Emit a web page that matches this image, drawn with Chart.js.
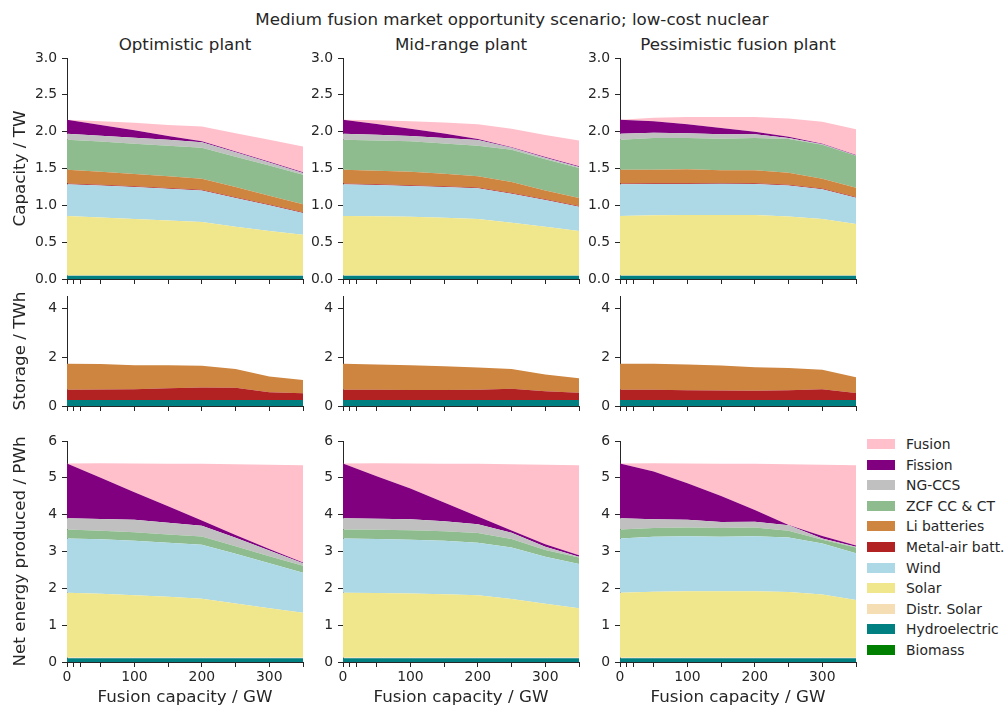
<!DOCTYPE html>
<html><head><meta charset="utf-8">
<script src="https://cdn.jsdelivr.net/npm/chart.js@4.4.1/dist/chart.umd.min.js"></script>
<style>
html,body{margin:0;padding:0;background:#fff;}
body{width:1007px;height:710px;position:relative;overflow:hidden;font-family:'DejaVu Sans',sans-serif;color:#262626;}
canvas{position:absolute;}
.t{position:absolute;white-space:nowrap;transform:translate(-50%,-50%);font-size:16.7px;line-height:1;}
.li{position:absolute;left:867px;height:20px;white-space:nowrap;font-size:13.9px;line-height:20px;}
.li span{display:inline-block;width:28px;height:10px;vertical-align:middle;margin-right:11px;position:relative;top:-1px;}
</style></head><body>
<div class="t" style="left:512px;top:19px">Medium fusion market opportunity scenario; low-cost nuclear</div>
<div class="t" style="left:185px;top:44px">Optimistic plant</div>
<div class="t" style="left:461px;top:44px">Mid-range plant</div>
<div class="t" style="left:738px;top:44px">Pessimistic fusion plant</div>
<div id="legend"></div>
<script>
// ---------- data ----------
const fusionGW = [0, 50, 100, 150, 200, 250, 300, 350];
const xTickValues = [0, 10, 20, 50, 100, 150, 200, 250, 300, 350];
const xTickLabels = [0, 100, 200, 300];
const capTicks = [0, 0.5, 1.0, 1.5, 2.0, 2.5, 3.0];
const stoTicks = [0, 2, 4];
const enTicks = [0, 1, 2, 3, 4, 5, 6];
const columnTitles = ['Optimistic plant', 'Mid-range plant', 'Pessimistic fusion plant'];
const rowTitles = ['Capacity / TW', 'Storage / TWh', 'Net energy produced / PWh'];
// stacking order, bottom to top
const seriesNames = ['Biomass', 'Hydroelectric', 'Distr. Solar', 'Solar', 'Wind', 'Metal-air batt.', 'Li batteries', 'ZCF CC & CT', 'NG-CCS', 'Fission', 'Fusion'];
const seriesColors = ['#008000', '#008080', '#F5DEB3', '#F0E68C', '#ADD8E6', '#B22222', '#CD853F', '#8FBC8F', '#C0C0C0', '#800080', '#FFC0CB'];

// Capacity (TW) per series, same order as seriesNames
const capOptimistic = [
  [0, 0, 0, 0, 0, 0, 0, 0],
  [0.045, 0.045, 0.045, 0.045, 0.045, 0.045, 0.045, 0.045],
  [0.005, 0.005, 0.005, 0.005, 0.005, 0.005, 0.005, 0.005],
  [0.805, 0.785, 0.764, 0.745, 0.724, 0.66, 0.60, 0.552],
  [0.43, 0.435, 0.435, 0.43, 0.426, 0.39, 0.35, 0.294],
  [0.01, 0.01, 0.01, 0.01, 0.01, 0.01, 0.01, 0.01],
  [0.189, 0.175, 0.166, 0.16, 0.152, 0.14, 0.12, 0.108],
  [0.407, 0.41, 0.412, 0.415, 0.421, 0.41, 0.41, 0.402],
  [0.082, 0.081, 0.082, 0.08, 0.072, 0.06, 0.04, 0.023],
  [0.19, 0.144, 0.101, 0.05, 0.014, 0.01, 0.01, 0.009],
  [0, 0.05, 0.1, 0.15, 0.2, 0.25, 0.3, 0.35]
];
const capMidRange = [
  [0, 0, 0, 0, 0, 0, 0, 0],
  [0.045, 0.045, 0.045, 0.045, 0.045, 0.045, 0.045, 0.045],
  [0.005, 0.005, 0.005, 0.005, 0.005, 0.005, 0.005, 0.005],
  [0.805, 0.802, 0.796, 0.78, 0.764, 0.715, 0.66, 0.602],
  [0.43, 0.423, 0.416, 0.42, 0.417, 0.393, 0.362, 0.33],
  [0.01, 0.01, 0.01, 0.01, 0.01, 0.01, 0.01, 0.01],
  [0.189, 0.185, 0.185, 0.17, 0.153, 0.149, 0.118, 0.108],
  [0.407, 0.41, 0.412, 0.41, 0.416, 0.438, 0.425, 0.407],
  [0.082, 0.077, 0.071, 0.075, 0.077, 0.025, 0.02, 0.015],
  [0.19, 0.148, 0.1, 0.06, 0.013, 0.01, 0.01, 0.008],
  [0, 0.05, 0.1, 0.15, 0.2, 0.25, 0.3, 0.35]
];
const capPessimistic = [
  [0, 0, 0, 0, 0, 0, 0, 0],
  [0.045, 0.045, 0.045, 0.045, 0.045, 0.045, 0.045, 0.045],
  [0.005, 0.005, 0.005, 0.005, 0.005, 0.005, 0.005, 0.005],
  [0.805, 0.814, 0.819, 0.819, 0.819, 0.80, 0.764, 0.697],
  [0.43, 0.426, 0.421, 0.425, 0.421, 0.42, 0.403, 0.357],
  [0.01, 0.01, 0.01, 0.01, 0.01, 0.01, 0.01, 0.01],
  [0.189, 0.184, 0.189, 0.171, 0.175, 0.163, 0.135, 0.126],
  [0.407, 0.43, 0.425, 0.43, 0.439, 0.457, 0.462, 0.434],
  [0.082, 0.072, 0.063, 0.059, 0.05, 0.015, 0.006, 0.004],
  [0.19, 0.154, 0.123, 0.086, 0.036, 0.015, 0.006, 0.005],
  [0, 0.05, 0.1, 0.15, 0.2, 0.25, 0.3, 0.35]
];

// Storage (TWh)
const stoOptimistic = [
  [0, 0, 0, 0, 0, 0, 0, 0],
  [0.245, 0.245, 0.245, 0.245, 0.245, 0.245, 0.245, 0.245],
  [0, 0, 0, 0, 0, 0, 0, 0],
  [0, 0, 0, 0, 0, 0, 0, 0],
  [0, 0, 0, 0, 0, 0, 0, 0],
  [0.422, 0.425, 0.445, 0.485, 0.515, 0.505, 0.315, 0.275],
  [1.063, 1.05, 0.98, 0.935, 0.89, 0.76, 0.65, 0.54],
  [0, 0, 0, 0, 0, 0, 0, 0],
  [0, 0, 0, 0, 0, 0, 0, 0],
  [0, 0, 0, 0, 0, 0, 0, 0],
  [0, 0, 0, 0, 0, 0, 0, 0]
];
const stoMidRange = [
  [0, 0, 0, 0, 0, 0, 0, 0],
  [0.245, 0.245, 0.245, 0.245, 0.245, 0.245, 0.245, 0.245],
  [0, 0, 0, 0, 0, 0, 0, 0],
  [0, 0, 0, 0, 0, 0, 0, 0],
  [0, 0, 0, 0, 0, 0, 0, 0],
  [0.422, 0.415, 0.405, 0.405, 0.415, 0.465, 0.355, 0.295],
  [1.063, 1.04, 1.02, 0.98, 0.92, 0.80, 0.69, 0.60],
  [0, 0, 0, 0, 0, 0, 0, 0],
  [0, 0, 0, 0, 0, 0, 0, 0],
  [0, 0, 0, 0, 0, 0, 0, 0],
  [0, 0, 0, 0, 0, 0, 0, 0]
];
const stoPessimistic = [
  [0, 0, 0, 0, 0, 0, 0, 0],
  [0.245, 0.245, 0.245, 0.245, 0.245, 0.245, 0.245, 0.245],
  [0, 0, 0, 0, 0, 0, 0, 0],
  [0, 0, 0, 0, 0, 0, 0, 0],
  [0, 0, 0, 0, 0, 0, 0, 0],
  [0.422, 0.415, 0.395, 0.385, 0.381, 0.395, 0.445, 0.285],
  [1.063, 1.07, 1.06, 1.03, 0.964, 0.91, 0.79, 0.65],
  [0, 0, 0, 0, 0, 0, 0, 0],
  [0, 0, 0, 0, 0, 0, 0, 0],
  [0, 0, 0, 0, 0, 0, 0, 0],
  [0, 0, 0, 0, 0, 0, 0, 0]
];

// Net energy produced (PWh)
const enOptimistic = [
  [0, 0, 0, 0, 0, 0, 0, 0],
  [0.105, 0.105, 0.105, 0.105, 0.105, 0.105, 0.105, 0.105],
  [0.015, 0.015, 0.015, 0.015, 0.015, 0.015, 0.015, 0.015],
  [1.76, 1.73, 1.69, 1.65, 1.60, 1.47, 1.34, 1.22],
  [1.47, 1.48, 1.48, 1.47, 1.46, 1.35, 1.22, 1.08],
  [0, 0, 0, 0, 0, 0, 0, 0],
  [0, 0, 0, 0, 0, 0, 0, 0],
  [0.25, 0.23, 0.23, 0.22, 0.23, 0.20, 0.19, 0.19],
  [0.30, 0.32, 0.34, 0.32, 0.29, 0.23, 0.16, 0.07],
  [1.49, 1.12, 0.75, 0.45, 0.14, 0.08, 0.04, 0.02],
  [0, 0.395, 0.78, 1.155, 1.54, 1.92, 2.285, 2.64]
];
const enMidRange = [
  [0, 0, 0, 0, 0, 0, 0, 0],
  [0.105, 0.105, 0.105, 0.105, 0.105, 0.105, 0.105, 0.105],
  [0.015, 0.015, 0.015, 0.015, 0.015, 0.015, 0.015, 0.015],
  [1.76, 1.75, 1.74, 1.72, 1.69, 1.59, 1.46, 1.34],
  [1.47, 1.47, 1.46, 1.45, 1.43, 1.40, 1.28, 1.20],
  [0, 0, 0, 0, 0, 0, 0, 0],
  [0, 0, 0, 0, 0, 0, 0, 0],
  [0.25, 0.25, 0.26, 0.26, 0.26, 0.23, 0.18, 0.18],
  [0.30, 0.30, 0.295, 0.27, 0.24, 0.17, 0.09, 0.02],
  [1.49, 1.15, 0.835, 0.51, 0.21, 0.06, 0.07, 0.04],
  [0, 0.355, 0.68, 1.055, 1.43, 1.80, 2.155, 2.44]
];
const enPessimistic = [
  [0, 0, 0, 0, 0, 0, 0, 0],
  [0.105, 0.105, 0.105, 0.105, 0.105, 0.105, 0.105, 0.105],
  [0.015, 0.015, 0.015, 0.015, 0.015, 0.015, 0.015, 0.015],
  [1.76, 1.79, 1.80, 1.80, 1.80, 1.78, 1.71, 1.56],
  [1.47, 1.49, 1.495, 1.48, 1.495, 1.48, 1.39, 1.27],
  [0, 0, 0, 0, 0, 0, 0, 0],
  [0, 0, 0, 0, 0, 0, 0, 0],
  [0.25, 0.24, 0.235, 0.24, 0.235, 0.18, 0.10, 0.16],
  [0.30, 0.235, 0.21, 0.16, 0.16, 0.15, 0.03, 0.02],
  [1.49, 1.295, 0.99, 0.71, 0.32, 0.01, 0.07, 0.03],
  [0, 0.225, 0.54, 0.875, 1.25, 1.65, 1.935, 2.18]
];

// ---------- layout ----------
const TEXT = '#262626';
const FONT = 'DejaVu Sans';
const panels = [
  [capOptimistic, capMidRange, capPessimistic],
  [stoOptimistic, stoMidRange, stoPessimistic],
  [enOptimistic, enMidRange, enPessimistic]
];
const rowYMax = [3.0, 4.5, 6];
const rowTicks = [capTicks, stoTicks, enTicks];
const plotLeft = [67, 343, 620];
const plotWidth = 236;
const plotTop = [58, 296, 441];
const plotHeight = [221, 110, 221];

Chart.defaults.font.family = FONT;
Chart.defaults.color = TEXT;

function makePanel(r, c) {
  const rows = panels[r][c];
  const Wy = c === 0 ? 67 : 40;
  const padTop = 10, padRight = 8;
  const Hx = r === 2 ? 47 : 10;
  const cv = document.createElement('canvas');
  const w = Wy + plotWidth + padRight;
  const h = padTop + plotHeight[r] + Hx;
  cv.width = w; cv.height = h;
  cv.style.width = w + 'px'; cv.style.height = h + 'px';
  cv.style.left = (plotLeft[c] - Wy) + 'px';
  cv.style.top = (plotTop[r] - padTop) + 'px';
  document.body.appendChild(cv);
  const axisGrid = {display: true, drawOnChartArea: false, drawTicks: true, tickLength: 5, color: TEXT, lineWidth: 1};
  const axisBorder = {display: true, color: TEXT, width: 1};
  new Chart(cv, {
    type: 'line',
    data: {
      datasets: seriesNames.map((name, i) => ({
        label: name,
        data: fusionGW.map((x, k) => ({x: x, y: rows[i][k]})),
        backgroundColor: seriesColors[i],
        borderColor: 'rgba(0,0,0,0)',
        borderWidth: 0,
        pointRadius: 0,
        pointHoverRadius: 0,
        tension: 0,
        fill: i === 0 ? 'origin' : '-1'
      }))
    },
    options: {
      responsive: false,
      animation: false,
      devicePixelRatio: 1,
      events: [],
      layout: {padding: {top: padTop, right: padRight, left: 0, bottom: 0}},
      plugins: {legend: {display: false}, tooltip: {enabled: false}, title: {display: false}},
      scales: {
        x: {
          type: 'linear', min: 0, max: 350, z: 1,
          afterBuildTicks: s => { s.ticks = xTickValues.map(v => ({value: v})); },
          afterFit: s => { s.height = Hx; s.paddingLeft = 0; s.paddingRight = 0; },
          ticks: {
            display: r === 2, autoSkip: false, maxRotation: 0, padding: 2,
            font: {size: 13.9, family: FONT}, color: TEXT,
            callback: v => xTickLabels.includes(v) ? String(v) : ''
          },
          grid: axisGrid,
          border: axisBorder,
          title: {display: r === 2, text: 'Fusion capacity / GW', font: {size: 16.7, family: FONT}, color: TEXT, padding: {top: 0, bottom: 1}}
        },
        y: {
          stacked: true, min: 0, max: rowYMax[r], z: 1,
          afterBuildTicks: s => { s.ticks = rowTicks[r].map(v => ({value: v})); },
          afterFit: s => { s.width = Wy; s.paddingTop = 0; s.paddingBottom = 0; },
          ticks: {
            autoSkip: false, padding: 5,
            font: {size: 13.9, family: FONT}, color: TEXT,
            callback: v => r === 0 ? Number(v).toFixed(1) : String(v)
          },
          grid: axisGrid,
          border: axisBorder,
          title: {display: c === 0, text: rowTitles[r], font: {size: 16.7, family: FONT}, color: TEXT, padding: {top: 11, bottom: 0}}
        }
      }
    }
  });
}
for (let r = 0; r < 3; r++) for (let c = 0; c < 3; c++) makePanel(r, c);

// ---------- legend (top to bottom = reverse stacking order) ----------
const leg = document.getElementById('legend');
for (let j = 0; j < seriesNames.length; j++) {
  const i = seriesNames.length - 1 - j;
  const d = document.createElement('div');
  d.className = 'li';
  d.style.top = (434 + j * 20.6) + 'px';
  d.innerHTML = '<span style="background:' + seriesColors[i] + '"></span>' + seriesNames[i];
  leg.appendChild(d);
}
</script>
</body></html>
